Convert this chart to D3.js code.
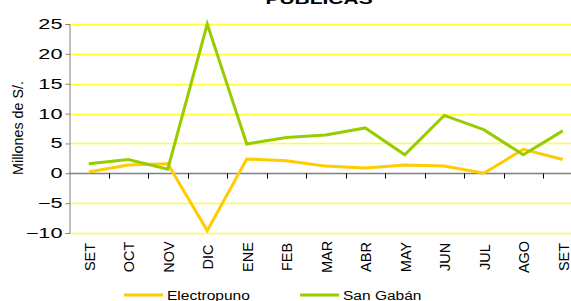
<!DOCTYPE html>
<html>
<head>
<meta charset="utf-8">
<script src="https://cdn.jsdelivr.net/npm/d3@7"></script>
<style>
body { margin: 0; background: #fff; }
svg text { font-family: Arial, "Liberation Sans", sans-serif; fill: #000; }
</style>
</head>
<body>
<div id="chart"></div>
<script>
var width = 571
var height = 301

var months = ["SET","OCT","NOV","DIC","ENE","FEB","MAR","ABR","MAY","JUN","JUL","AGO","SET2"]
var monthLabels = ["SET","OCT","NOV","DIC","ENE","FEB","MAR","ABR","MAY","JUN","JUL","AGO","SET"]
var electropuno = [0.2, 1.4, 1.6, -9.6, 2.4, 2.1, 1.2, 0.9, 1.4, 1.2, 0.0, 4.0, 2.3]
var sanGaban = [1.6, 2.3, 0.7, 25.0, 4.9, 6.0, 6.4, 7.6, 3.1, 9.7, 7.3, 3.1, 7.1]
var yTicks = [-10, -5, 0, 5, 10, 15, 20, 25]

var series = [
  {name: "Electropuno", values: electropuno, color: "#FFCC00"},
  {name: "San Gabán", values: sanGaban, color: "#99CC00"}
]

var x = d3.scaleBand()
    .domain(months)
    .range([69, 69 + 13 * 39.5])
var y = d3.scaleLinear()
    .domain([-10, 25])
    .range([233, 24])

var svg = d3.select("#chart").append("svg")
    .attr("width", width).attr("height", height)

// title (cut at top edge, as in the original)
svg.append("text")
    .attr("transform", "translate(319,4) scale(1.4,1)")
    .attr("text-anchor", "middle")
    .style("font-size", "15px")
    .style("font-weight", "bold")
    .text("PUBLICAS")

// gridlines
svg.append("g").selectAll("line")
    .data(yTicks.filter(function(d) { return d != 0 }))
    .enter().append("line")
    .attr("x1", 69).attr("x2", width)
    .attr("y1", function(d) { return Math.round(y(d)) + 0.5 })
    .attr("y2", function(d) { return Math.round(y(d)) + 0.5 })
    .attr("stroke", "#FFFF33")
    .attr("stroke-width", 1.3)

// y axis
var lAxis = d3.axisLeft(y).tickValues(yTicks).tickSize(4)
var gy = svg.append("g")
    .attr("transform", "translate(69.5,0)")
    .call(lAxis)
gy.select(".domain").attr("stroke", "#808080")
gy.selectAll(".tick line").attr("stroke", "#808080")
gy.selectAll(".tick text")
    .attr("x", 0)
    .attr("transform", "translate(-7,0) scale(1.55,1)")
    .style("font-size", "14px")
    .style("font-family", "Arial, 'Liberation Sans', sans-serif")
    .attr("fill", "#000")

// zero line with category ticks
var y0 = Math.round(y(0)) + 0.5
svg.append("line")
    .attr("x1", 69).attr("x2", width)
    .attr("y1", y0).attr("y2", y0)
    .attr("stroke", "#808080").attr("stroke-width", 1.3)
svg.append("g").selectAll("line")
    .data(months.slice(1))
    .enter().append("line")
    .attr("x1", function(d) { return Math.round(x(d)) + 0.5 })
    .attr("x2", function(d) { return Math.round(x(d)) + 0.5 })
    .attr("y1", y0).attr("y2", y0 + 5)
    .attr("stroke", "#000").attr("stroke-width", 1)

// x labels
svg.append("g").selectAll("text")
    .data(months)
    .enter().append("text")
    .attr("transform", function(d) {
      return "translate(" + (x(d) + x.bandwidth() / 2 + 6) + ",257) rotate(-90)"
    })
    .attr("text-anchor", "middle")
    .style("font-size", "14.5px")
    .text(function(d, i) { return monthLabels[i] })

// y label
svg.append("text")
    .attr("transform", "translate(23,128) rotate(-90)")
    .attr("text-anchor", "middle")
    .style("font-size", "14.3px")
    .text("Millones de S/.")

// lines
var line = d3.line()
    .x(function(d, i) { return x(months[i]) + x.bandwidth() / 2 })
    .y(function(d) { return y(d) })

svg.append("g").selectAll("path")
    .data(series)
    .enter().append("path")
    .attr("d", function(d) { return line(d.values) })
    .attr("fill", "none")
    .attr("stroke", function(d) { return d.color })
    .attr("stroke-width", 3)

// legend
var legendX = [124, 300]
var legend = svg.append("g").selectAll("g")
    .data(series)
    .enter().append("g")
    .attr("transform", function(d, i) { return "translate(" + legendX[i] + ",295)" })
legend.append("line")
    .attr("x1", 0).attr("x2", 39)
    .attr("stroke", function(d) { return d.color })
    .attr("stroke-width", 3)
legend.append("text")
    .attr("transform", "translate(43,4.5) scale(1.15,1)")
    .style("font-size", "13.5px")
    .text(function(d) { return d.name })
</script>
</body>
</html>
